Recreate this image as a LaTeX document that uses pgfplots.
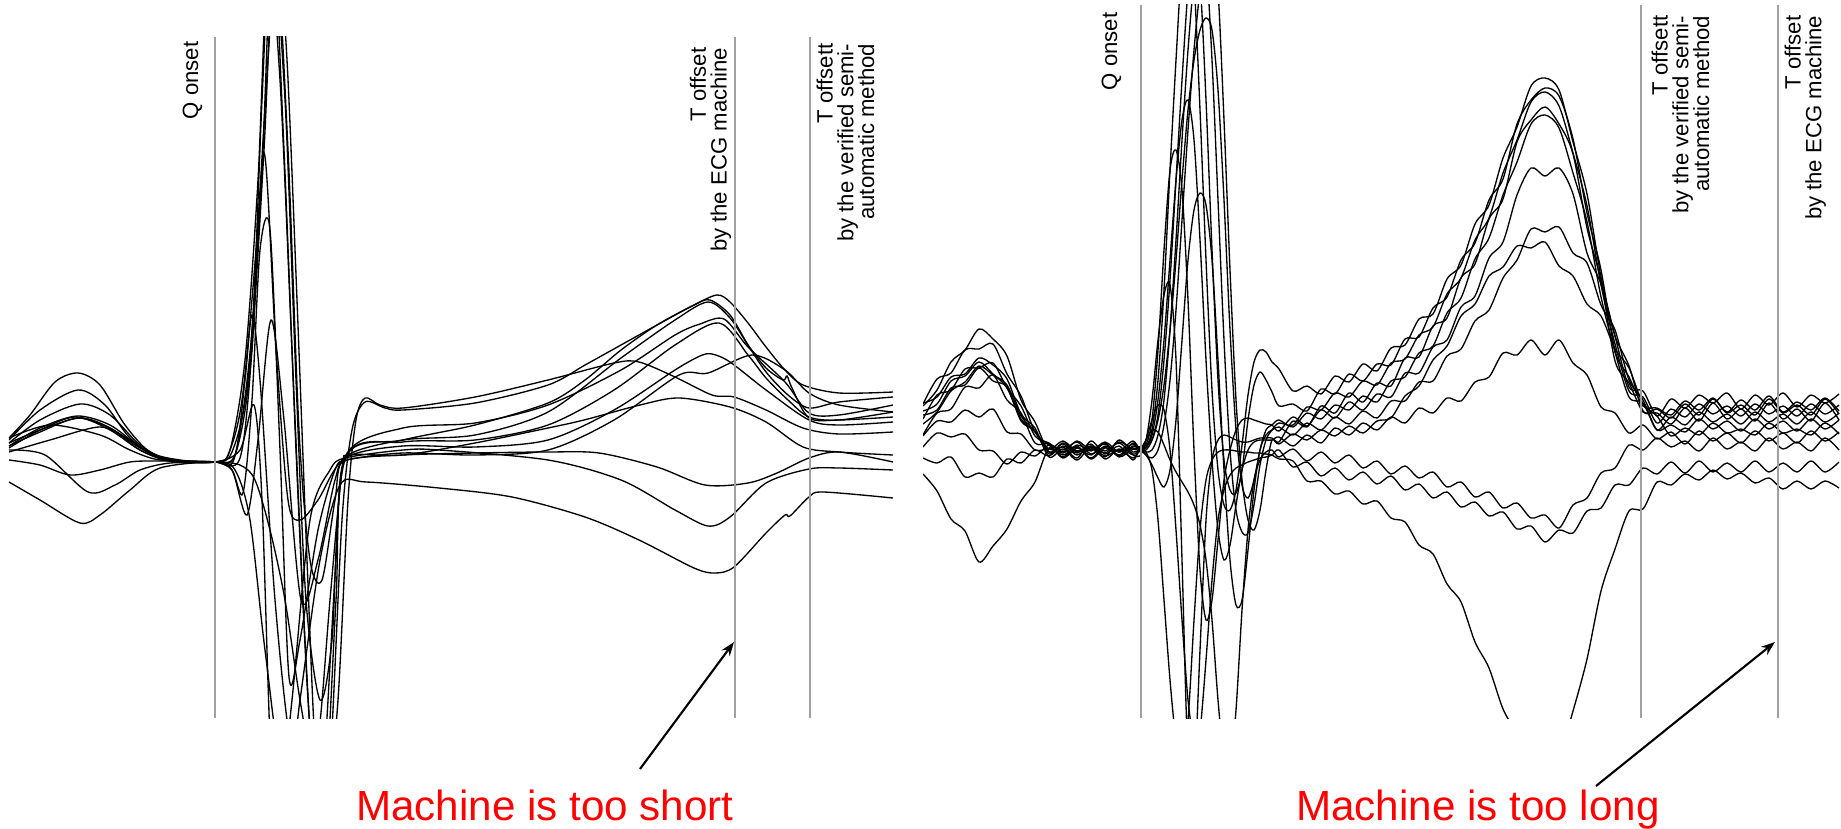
\documentclass[border=0pt]{standalone}
\usepackage{pgfplots}
\pgfplotsset{compat=1.18}
\usepackage{pgfplotstable}
\usepackage{fontspec}
\setmainfont{Liberation Sans}
\usetikzlibrary{arrows.meta}
\definecolor{markline}{HTML}{A0A0A0}
\newcommand{\lab}{\fontsize{6.3}{5.9}\selectfont\lineskiplimit=-10pt\relax}
\pgfplotsset{lead/.style={black, solid, line width=0.38pt, smooth, mark=none}}

% right panel: 12 leads, x in px, y measured downwards
\pgfplotstableread{
x R1 R2 R3 R4 R5 R6 R7 R8 R9 R10 R11 R12
923 406 404 403 419 424 435 411 436 415 447 458 474
937 390 379 397 395 412 413 404 421 410 433 463 491
951 362 373 377 390 391 409 381 422 388 437 457 519
965 350 350 374 369 382 387 376 410 385 434 477 531
979 329 349 358 368 366 388 362 417 368 450 473 562
993 339 344 365 363 375 375 374 409 381 451 477 546
1007 356 374 379 388 385 400 388 432 387 464 459 529
1021 400 396 414 406 416 413 419 434 421 452 463 501
1035 422 432 428 436 431 443 432 450 431 456 450 482
1049 452 445 457 443 449 444 452 449 454 445 456 448
1063 444 455 449 452 441 458 447 453 443 450 446 457
1077 455 447 460 441 451 448 458 446 452 442 453 445
1091 446 458 447 450 446 455 441 459 448 454 444 451
1105 451 446 456 444 453 443 454 448 457 447 459 442
1119 443 452 450 455 442 457 446 451 440 456 449 452
1133 454 444 458 443 449 449 460 441 452 446 455 447
1140 450 452 450 449 447 451 449 450 450 449 456 447
1146 447 450 452 455 445 445 455 440 448 440 440 452
1152 430 440 450 458 440 420 465 400 435 430 420 470
1158 380 415 435 450 420 350 478 340 400 432 405 520
1164 290 360 400 425 385 250 487 295 340 445 410 600
1170 170 280 330 380 330 170 470 285 260 460 450 680
1176 60 180 240 310 260 150 420 360 180 472 530 740
1182 -40 80 140 220 180 190 340 560 120 482 620 760
1188 -80 -10 50 130 110 300 260 760 100 492 700 720
1194 -20 -60 -20 50 60 450 210 780 140 505 740 620
1200 110 -20 -60 -10 30 570 193 650 240 525 730 530
1206 260 100 -40 -50 18 620 205 520 360 560 660 480
1212 390 250 60 -60 30 600 260 460 460 620 580 460
1218 470 380 200 -10 90 540 360 440 530 700 520 452
1224 505 460 340 120 200 480 470 435 560 760 490 450
1230 510 490 450 270 330 450 560 437 545 770 475 450
1236 490 493 510 400 430 430 605 440 505 710 468 451
1242 445 470 532 480 485 420 600 442 470 610 465 452
1248 395 420 533 520 498 418 550 442 450 530 462 452
1254 362 385 505 530 480 420 490 440 442 480 460 453
1260 350 372 465 510 450 422 450 438 440 460 458 453
1266 352 380 440 470 430 424 435 438 440 452 457 454
1272 362 392 430 440 425 425 430 438 440 450 455 455
1279 369 406 423 442 420 431 427 444 437 457 450 459
1293 391 404 425 421 427 417 435 434 446 449 467 461
1307 386 411 407 427 413 426 423 440 435 461 462 481
1321 394 389 410 406 419 410 430 430 443 452 476 481
1335 376 394 393 413 405 418 417 436 428 463 468 494
1349 382 374 397 393 410 402 424 426 435 455 480 491
1363 364 381 381 402 396 410 411 433 423 468 472 504
1377 371 364 385 383 402 394 418 421 430 461 484 501
1391 348 365 363 386 381 397 401 418 417 474 476 518
1405 345 339 359 358 377 373 401 396 423 466 490 522
1419 319 337 335 357 353 373 382 386 408 478 484 545
1433 314 308 327 326 346 347 381 360 413 472 498 554
1447 279 297 294 318 313 340 356 346 398 487 492 584
1461 265 260 278 278 298 307 349 316 401 482 507 602
1475 224 243 240 264 259 296 321 304 382 497 502 642
1489 205 200 218 219 238 258 310 276 377 492 516 668
1503 158 179 173 199 195 242 278 267 353 508 512 709
1517 127 124 140 142 162 195 260 246 355 503 529 734
1531 86 100 102 120 124 168 229 248 340 518 526 766
1545 78 88 92 107 115 176 232 242 355 515 542 766
1559 90 96 106 124 128 168 227 266 340 528 530 756
1573 142 139 153 154 173 194 253 276 363 505 533 711
1587 194 213 206 228 222 253 263 304 375 498 511 659
1601 277 270 285 281 297 284 305 316 407 473 508 591
1615 336 351 344 361 352 336 330 349 413 468 485 549
1629 387 377 391 383 397 366 380 368 433 445 485 511
1643 391 406 397 412 403 411 400 404 425 450 468 509
1657 416 408 423 413 430 409 430 416 439 438 474 482
1671 399 415 409 424 417 418 425 436 432 447 462 485
1685 408 401 417 408 425 404 432 428 444 441 473 474
1699 395 410 404 421 412 415 419 435 431 451 461 480
1713 403 398 414 403 422 399 429 423 441 438 472 470
1727 393 412 406 419 414 413 421 433 433 449 463 479
1741 409 400 416 409 424 405 431 429 443 442 472 473
1755 395 410 404 421 412 415 419 435 431 451 461 483
1769 405 396 414 403 422 399 429 423 441 438 472 478
1783 393 412 406 419 414 413 421 433 433 449 463 489
1797 407 402 416 409 424 405 431 429 443 442 472 481
1811 395 410 404 421 412 415 419 435 431 451 461 489
1825 403 398 414 403 422 399 429 423 441 438 472 481
1839 394 411 405 420 413 414 420 434 432 450 462 488
}\rdata

\begin{document}
\begin{tikzpicture}
\path[use as bounding box] (0,0) rectangle (184.1mm,-82.9mm);

% ---------------- left panel ----------------
\begin{axis}[at={(0.9mm,-71.8mm)}, anchor=south west, scale only axis,
  width=88.4mm, height=68.1mm, xmin=9, xmax=893, ymin=37, ymax=718,
  y dir=reverse, hide axis]
\addplot[lead] coordinates {(9,438)(30,415)(55,382)(78,373)(100,385)(125,425)(150,452)(180,460)(215,462)(228,455)(242,400)(256,250)(268,60)(277,-60)(287,60)(297,300)(307,560)(316,760)(326,780)(336,600)(345,458)(403,440)(475,425)(548,403)(585,380)(621,350)(657,325)(694,305)(717,295)(730,302)(748,323)(766,347)(785,370)(803,385)(839,393)(893,392)};
\addplot[lead] coordinates {(9,440)(40,410)(78,390)(105,405)(130,438)(160,458)(215,462)(235,456)(252,330)(262,100)(272,-80)(284,150)(296,450)(308,700)(318,800)(330,760)(342,520)(352,430)(365,402)(385,408)(403,410)(475,403)(548,385)(585,365)(621,345)(657,325)(694,305)(710,300)(730,315)(748,345)(766,372)(788,395)(809,408)(839,402)(893,397)};
\addplot[lead] coordinates {(9,443)(40,420)(80,404)(110,415)(140,445)(170,460)(215,462)(230,450)(245,360)(258,180)(268,-40)(280,80)(292,350)(304,620)(314,780)(324,760)(336,560)(346,455)(403,428)(475,423)(548,405)(621,370)(675,335)(700,324)(724,319)(748,347)(785,382)(809,413)(839,415)(893,405)};
\addplot[lead] coordinates {(9,446)(40,428)(77,416)(110,425)(140,447)(170,460)(215,462)(232,452)(248,380)(262,170)(272,-50)(285,100)(296,380)(306,600)(320,700)(332,640)(345,460)(403,442)(475,440)(548,425)(614,390)(675,345)(719,323)(748,355)(766,378)(788,400)(809,417)(839,420)(893,412)};
\addplot[lead] coordinates {(9,448)(40,430)(75,417)(110,428)(140,448)(170,460)(215,462)(235,455)(250,370)(264,150)(275,-60)(288,150)(299,430)(310,560)(322,580)(335,500)(345,457)(403,440)(475,435)(548,412)(621,358)(675,320)(708,302)(730,318)(748,345)(766,368)(783,380)(787,376)(792,388)(809,418)(839,420)(893,417)};
\addplot[lead] coordinates {(9,443)(40,430)(80,418)(110,428)(140,450)(170,461)(215,462)(240,458)(252,350)(264,153)(276,350)(288,500)(300,520)(318,500)(345,458)(403,446)(475,447)(548,440)(614,410)(675,370)(700,356)(712,354)(730,362)(766,390)(809,420)(839,425)(893,422)};
\addplot[lead] coordinates {(9,452)(50,440)(100,427)(130,440)(160,458)(215,462)(235,455)(245,380)(252,315)(260,380)(275,600)(290,740)(305,760)(318,740)(330,600)(342,470)(350,455)(403,455)(475,443)(548,428)(584,420)(640,405)(679,398)(730,407)(766,422)(803,447)(839,452)(893,455)};
\addplot[lead] coordinates {(9,460)(40,465)(70,475)(100,470)(130,462)(160,461)(215,462)(232,470)(247,515)(258,440)(271,320)(284,420)(301,600)(318,560)(335,480)(347,460)(403,455)(475,453)(548,452)(599,453)(657,467)(705,485)(748,483)(777,473)(809,458)(839,452)(893,462)};
\addplot[lead] coordinates {(9,450)(45,455)(88,492)(115,485)(140,470)(170,463)(215,462)(240,450)(254,405)(262,500)(271,760)(280,800)(292,700)(310,520)(330,470)(345,458)(403,450)(439,450)(548,460)(621,480)(675,510)(708,526)(730,517)(766,483)(809,469)(839,468)(893,470)};
\addplot[lead] coordinates {(9,482)(40,500)(80,523)(100,515)(130,490)(160,468)(215,462)(235,470)(250,520)(265,650)(286,800)(300,700)(320,560)(340,485)(366,482)(439,488)(512,497)(585,517)(639,540)(694,568)(715,573)(734,567)(766,533)(785,515)(790,516)(809,497)(823,492)(893,498)};
\addplot[lead] coordinates {(9,438)(50,425)(100,435)(130,450)(160,460)(215,462)(240,465)(255,480)(270,530)(285,600)(300,700)(315,780)(327,800)(338,700)(348,500)(356,420)(365,398)(380,405)(403,408)(475,397)(548,380)(614,363)(639,362)(675,377)(712,395)(734,397)(766,410)(803,428)(839,434)(893,432)};
\addplot[lead] coordinates {(9,446)(40,432)(78,418)(110,430)(140,450)(170,461)(215,462)(232,470)(243,493)(252,400)(260,250)(270,230)(280,450)(289,677)(300,640)(318,530)(335,470)(347,460)(403,453)(475,455)(548,450)(614,420)(679,375)(708,373)(752,355)(785,370)(809,393)(839,405)(893,412)};
\draw[markline, line width=0.6pt] (215,37) -- (215,718);
\draw[markline, line width=0.6pt] (735,37) -- (735,718);
\draw[markline, line width=0.6pt] (810,37) -- (810,718);
\end{axis}

% ---------------- right panel ----------------
\begin{axis}[at={(92.3mm,-71.8mm)}, anchor=south west, scale only axis,
  width=91.8mm, height=71.3mm, xmin=923, xmax=1841, ymin=5, ymax=718,
  y dir=reverse, hide axis]
\pgfplotsinvokeforeach{R1,R2,R3,R4,R5,R6,R7,R8,R9,R10,R11,R12}{
  \addplot[lead] table[x=x, y=#1] {\rdata};
}
\draw[markline, line width=0.6pt] (1141,5) -- (1141,718);
\draw[markline, line width=0.6pt] (1641,5) -- (1641,718);
\draw[markline, line width=0.6pt] (1778,5) -- (1778,718);
\end{axis}

% ---------------- labels ----------------
\node[rotate=90, anchor=south east, inner sep=0pt, font=\lab, align=right] at (20.3mm,-4.1mm) {Q onset};
\node[rotate=90, anchor=south east, inner sep=0pt, font=\lab, align=right] at (73.2mm,-4.7mm) {T offset\\by the ECG machine};
\node[rotate=90, anchor=north east, inner sep=0pt, font=\lab, align=right] at (81.6mm,-4.3mm) {T offsett\\by the verified semi-\\automatic method};
\node[rotate=90, anchor=south east, inner sep=0pt, font=\lab, align=right] at (112.2mm,-1.2mm) {Q onset};
\node[rotate=90, anchor=north east, inner sep=0pt, font=\lab, align=right] at (165.1mm,-1.5mm) {T offsett\\by the verified semi-\\automatic method};
\node[rotate=90, anchor=north east, inner sep=0pt, font=\lab, align=right] at (178.4mm,-1.5mm) {T offset\\by the ECG machine};

\draw[-{Stealth[length=1.4mm,width=1.0mm]}, line width=0.6pt] (64.0mm,-76.9mm) -- (73.4mm,-64.2mm);
\draw[-{Stealth[length=1.4mm,width=1.0mm]}, line width=0.6pt] (159.6mm,-78.6mm) -- (177.5mm,-64.2mm);

\node[text=red, font=\fontsize{12}{14}\selectfont, anchor=base, inner sep=0pt] at (54.5mm,-82.0mm) {Machine is too short};
\node[text=red, font=\fontsize{12}{14}\selectfont, anchor=base, inner sep=0pt] at (147.8mm,-82.0mm) {Machine is too long};
\end{tikzpicture}
\end{document}
